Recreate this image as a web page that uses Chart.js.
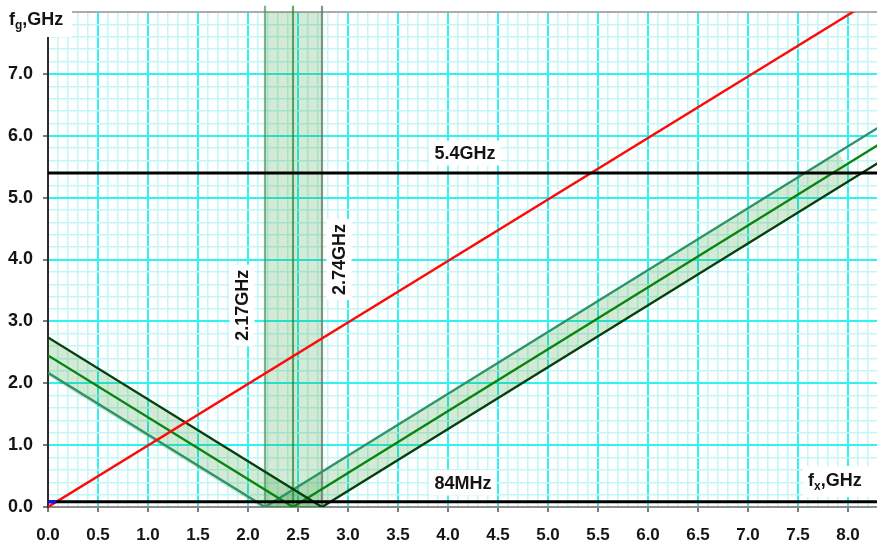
<!DOCTYPE html>
<html>
<head>
<meta charset="utf-8">
<script src="https://cdn.jsdelivr.net/npm/chart.js@4/dist/chart.umd.min.js"></script>
<style>
  html, body { margin: 0; padding: 0; background: #ffffff; }
  #wrap { width: 877px; height: 547px; }
</style>
</head>
<body>
<div id="wrap"><canvas id="c" width="877" height="547"></canvas></div>
<script>
// ---- data (all frequencies in GHz) ----
const loFreqs    = [2.17, 2.45, 2.74];          // LO band: lower edge, centre, upper edge
const refLevels  = [5.4, 0.084];                // 5.4 GHz and 84 MHz reference levels
const xRange     = [0, 8.29];
const yRange     = [0, 8];

const redX       = [0, 8.3];
const redY       = [0, 8.25];
const lowEdgeX   = [0, 2.17, 8.3];
const lowEdgeY   = [2.17, 0, 6.13];
const centreX    = [0, 2.45, 8.3];
const centreY    = [2.45, 0, 5.85];
const highEdgeX  = [0, 2.74, 8.3];
const highEdgeY  = [2.74, 0, 5.56];
const leftBandX  = [0, 2.74, 2.12, 0];
const leftBandY  = [2.74, 0, 0, 2.12];
const rightBandX = [2.17, 7.9, 8.06, 2.74];
const rightBandY = [0, 5.73, 5.32, 0];
const vBandX     = [2.17, 2.17, 2.74, 2.74];
const vBandY     = [0, 8, 8, 0];
const vLineTop   = 8.1;
const blueX      = [0, 0.08];
const blueY      = [0.085, 0.085];

const xTickLabels = ['0.0','0.5','1.0','1.5','2.0','2.5','3.0','3.5','4.0','4.5','5.0','5.5','6.0','6.5','7.0','7.5','8.0'];
const yTickLabels = ['0.0','1.0','2.0','3.0','4.0','5.0','6.0','7.0'];

const notes = [
  { text: '5.4GHz',  x: 4.17, y: 5.72, vertical: false },
  { text: '84MHz',   x: 4.15, y: 0.39, vertical: false },
  { text: '2.17GHz', x: 1.94, y: 3.26, vertical: true  },
  { text: '2.74GHz', x: 2.91, y: 4.00, vertical: true  }
];

// ---- helpers ----
const pts = (xs, ys) => xs.map((x, i) => ({ x: x, y: ys[i] }));
const near = (a, b) => Math.abs(a - b) < 1e-6;
const isHalf = v => near(v * 2, Math.round(v * 2));
const isWhole = v => near(v, Math.round(v));
const FONT = "'Liberation Sans', Arial, sans-serif";
const BAND_FILL = 'rgba(0,128,0,0.17)';

function lineDs(data, color, width, order, extra) {
  return Object.assign({
    data: data, borderColor: color, borderWidth: width, backgroundColor: color,
    pointRadius: 0, pointHoverRadius: 0, fill: false, tension: 0, order: order,
    borderCapStyle: 'butt'
  }, extra || {});
}
function shapeDs(data, order) {
  return {
    data: data, borderWidth: 0, borderColor: 'rgba(0,0,0,0)', backgroundColor: BAND_FILL,
    pointRadius: 0, pointHoverRadius: 0, fill: 'shape', tension: 0, order: order
  };
}

const datasets = [];
datasets.push(lineDs(pts(blueX, blueY), '#1010ff', 3, 0));
refLevels.forEach(v => datasets.push(lineDs(pts(xRange, [v, v]), '#000000', 3, 1)));
datasets.push(lineDs(pts(redX, redY), '#ff0a0a', 2.4, 2));
datasets.push(lineDs(pts(highEdgeX, highEdgeY), '#053f0b', 2.4, 3));
datasets.push(lineDs(pts(centreX, centreY), '#0a840f', 2.4, 3));
datasets.push(lineDs(pts(lowEdgeX, lowEdgeY), '#2e9468', 2.4, 3));
const vLineColors = ['rgba(70,150,95,0.7)', 'rgba(30,135,45,0.7)', 'rgba(95,125,105,0.8)'];
loFreqs.forEach((f, i) => datasets.push(
  lineDs(pts([f, f], [0, vLineTop]), vLineColors[i], 2.2, 4,
         { clip: { left: 0, top: 8, right: 0, bottom: 0 } })));
datasets.push(shapeDs(pts(vBandX, vBandY), 5));
datasets.push(shapeDs(pts(leftBandX, leftBandY), 5));
datasets.push(shapeDs(pts(rightBandX, rightBandY), 5));

// ---- annotations: label boxes and axis titles ----
const annotate = {
  id: 'annotate',
  afterDatasetsDraw(chart) {
    const ctx = chart.ctx;
    const xs = chart.scales.x, ys = chart.scales.y;
    ctx.save();
    ctx.font = 'bold 18px ' + FONT;
    ctx.textAlign = 'center';
    ctx.textBaseline = 'middle';
    notes.forEach(n => {
      const px = xs.getPixelForValue(n.x), py = ys.getPixelForValue(n.y);
      const w = ctx.measureText(n.text).width + 10, h = 25;
      ctx.save();
      ctx.translate(px, py);
      if (n.vertical) ctx.rotate(-Math.PI / 2);
      ctx.fillStyle = '#ffffff';
      ctx.fillRect(-w / 2, -h / 2, w, h);
      ctx.fillStyle = '#141414';
      ctx.fillText(n.text, 0, 1);
      ctx.restore();
    });

    // axis titles with subscripts
    function title(x0, base, main, sub, rest) {
      ctx.textAlign = 'left';
      ctx.textBaseline = 'alphabetic';
      ctx.fillStyle = '#141414';
      ctx.font = 'bold 18px ' + FONT;
      ctx.fillText(main, x0, base);
      let x = x0 + ctx.measureText(main).width;
      ctx.font = 'bold 12px ' + FONT;
      ctx.fillText(sub, x, base + 4);
      x += ctx.measureText(sub).width;
      ctx.font = 'bold 18px ' + FONT;
      ctx.fillText(rest, x, base);
    }
    const a = chart.chartArea;
    ctx.fillStyle = '#ffffff';
    ctx.fillRect(0, 0, a.left + 24, 37);
    title(9, 25, 'f', 'g', ',GHz');
    ctx.fillStyle = '#ffffff';
    ctx.fillRect(a.right - 74, 466, 74, 31);
    title(a.right - 69, 486, 'f', 'x', ',GHz');
    ctx.restore();
  }
};

new Chart(document.getElementById('c'), {
  type: 'line',
  data: { datasets: datasets },
  options: {
    responsive: false,
    animation: false,
    events: [],
    layout: { padding: { top: 12, right: 0, left: 0, bottom: 0 } },
    plugins: { legend: { display: false }, tooltip: { enabled: false } },
    scales: {
      x: {
        type: 'linear', min: xRange[0], max: xRange[1],
        afterFit: s => { s.height = 40; s.paddingLeft = 0; s.paddingRight = 0; },
        ticks: {
          stepSize: 0.1, autoSkip: false, includeBounds: false, maxRotation: 0, padding: 13,
          color: '#141414', font: { family: FONT, size: 17, weight: 'bold' },
          callback: v => isHalf(v) ? xTickLabels[Math.round(v * 2)] : ''
        },
        grid: {
          color: c => c.tick && isHalf(c.tick.value) ? '#2ff2f2' : '#c3f7f7',
          lineWidth: c => c.tick && isHalf(c.tick.value) ? 2 : 1.5,
          tickColor: c => c.tick && isHalf(c.tick.value) ? '#7a7a7a' : 'rgba(0,0,0,0)',
          tickWidth: 2, tickLength: 5
        },
        border: { color: '#8c8c8c', width: 2 }
      },
      y: {
        type: 'linear', min: yRange[0], max: yRange[1],
        afterFit: s => { s.width = 48; s.paddingTop = 0; s.paddingBottom = 0; },
        ticks: {
          stepSize: 0.2, autoSkip: false, padding: 10,
          color: '#141414', font: { family: FONT, size: 18, weight: 'bold' },
          callback: v => (isWhole(v) && Math.round(v) < yTickLabels.length) ? yTickLabels[Math.round(v)] : ''
        },
        grid: {
          color: c => {
            if (!c.tick) return '#c3f7f7';
            if (near(c.tick.value, yRange[1])) return '#acacac';
            return isWhole(c.tick.value) ? '#2ff2f2' : '#c3f7f7';
          },
          lineWidth: c => c.tick && isWhole(c.tick.value) ? 2 : 1.5,
          tickColor: c => c.tick && isWhole(c.tick.value) && c.tick.value < yRange[1] ? '#7a7a7a' : 'rgba(0,0,0,0)',
          tickWidth: 2, tickLength: 5
        },
        border: { color: '#2c2c2c', width: 2 }
      }
    }
  },
  plugins: [annotate]
});
</script>
</body>
</html>
